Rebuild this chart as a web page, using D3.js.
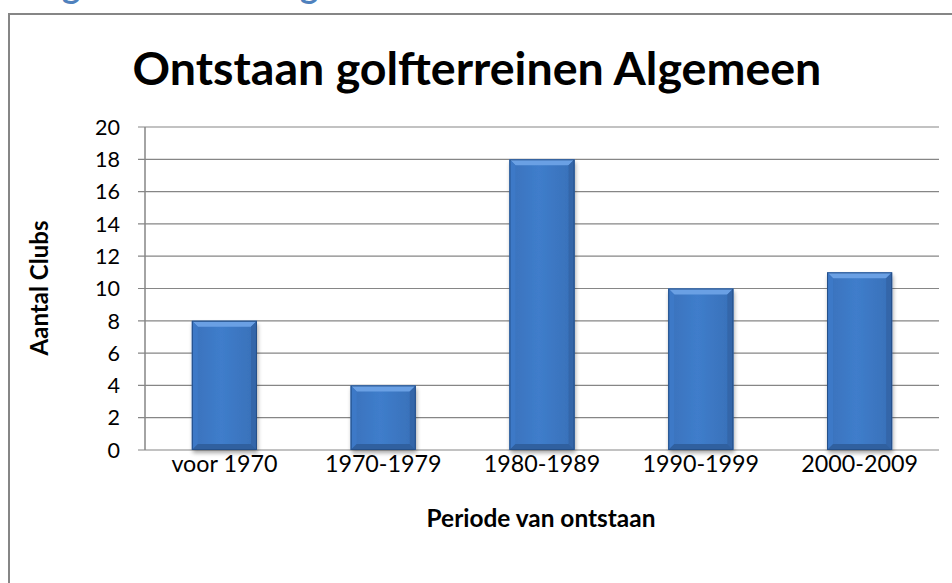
<!DOCTYPE html>
<html><head><meta charset="utf-8">
<script src="https://cdn.jsdelivr.net/npm/d3@7"></script>
<style>
html,body{margin:0;padding:0;background:#fff;}
svg{display:block;}
text{font-family:Lato, "Open Sans", sans-serif;}
</style></head>
<body>
<svg id="c" width="952" height="583"></svg>
<script>
const categories = ["voor 1970","1970-1979","1980-1989","1990-1999","2000-2009"];
const values = [8,4,18,10,11];
const yTicks = [0,2,4,6,8,10,12,14,16,18,20];
const title = "Ontstaan golfterreinen Algemeen";
const xTitle = "Periode van ontstaan";
const yTitle = "Aantal Clubs";
const heading = "Ontstaan golfterreinen Algemeen";

const svg = d3.select("#c");
const W=952,H=583;
const m={left:145,right:939,top:127,bottom:450};

function fitSize(txt, weight, target){
  const t=svg.append("text").attr("font-size",100).attr("font-weight",weight).text(txt);
  const w=t.node().getComputedTextLength(); t.remove();
  return 100*target/w;
}

// heading cut off at top (only the lower part visible as in the reference)
const hd=svg.append("text").attr("x",0).attr("y",-2).attr("fill","#4F81BD")
  .attr("font-size",24).attr("font-weight","bold").text(heading);
{
  const n=hd.node();
  const p1=n.getStartPositionOfChar(9).x, p2=n.getStartPositionOfChar(25).x;
  const fs=24*238/(p2-p1);
  hd.attr("font-size",fs);
  const q=n.getStartPositionOfChar(9).x;
  hd.attr("x",62-q);
}

// frame
svg.append("path").attr("d",`M9,${H+2} V14 H${W+2}`).attr("fill","none")
  .attr("stroke","#868686").attr("stroke-width",2);

const x=d3.scaleBand().domain(categories).range([m.left,m.right]).paddingInner(0.59).paddingOuter(0.295);
const y=d3.scaleLinear().domain([0,20]).range([m.bottom,m.top]);

// gridlines
svg.append("g").selectAll("line").data(yTicks).join("line")
  .attr("x1",m.left-7).attr("x2",m.right).attr("y1",d=>y(d)).attr("y2",d=>y(d))
  .attr("stroke","#868686").attr("stroke-width",1.2);
svg.append("line").attr("x1",m.left).attr("x2",m.left).attr("y1",m.top).attr("y2",m.bottom)
  .attr("stroke","#868686").attr("stroke-width",1.5);

// y tick labels
const tickFs=fitSize("20","normal",25);
svg.append("g").selectAll("text").data(yTicks).join("text")
  .attr("x",120).attr("y",d=>y(d)).attr("dy","0.36em").attr("text-anchor","end")
  .attr("font-size",tickFs).attr("fill","#000").text(d=>d);

// defs
const defs=svg.append("defs");
const g1=defs.append("linearGradient").attr("id","face").attr("x1",0).attr("x2",1).attr("y1",0).attr("y2",0);
g1.append("stop").attr("offset","0%").attr("stop-color","#3A72BC");
g1.append("stop").attr("offset","45%").attr("stop-color","#3F7DCB");
g1.append("stop").attr("offset","100%").attr("stop-color","#3870B8");
const f=defs.append("filter").attr("id","sh").attr("x","-20%").attr("y","-20%").attr("width","140%").attr("height","140%");
f.append("feGaussianBlur").attr("in","SourceAlpha").attr("stdDeviation",2);
f.append("feOffset").attr("dx",1).attr("dy",3).attr("result","o");
f.append("feComponentTransfer").append("feFuncA").attr("type","linear").attr("slope",0.35);
const mg=f.append("feMerge"); mg.append("feMergeNode"); mg.append("feMergeNode").attr("in","SourceGraphic");

const bars=svg.append("g").selectAll("g").data(values.map((v,i)=>({c:categories[i],v}))).join("g");
bars.each(function(d){
  const g=d3.select(this);
  const x0=x(d.c), x1=x0+x.bandwidth(), y0=y(d.v), y1=y(0), b=6;
  g.append("rect").attr("x",x0).attr("y",y0).attr("width",x1-x0).attr("height",y1-y0)
    .attr("fill","url(#face)").attr("filter","url(#sh)");
  g.append("path").attr("d",`M${x0},${y0}H${x1}L${x1-b},${y0+b}H${x0+b}Z`).attr("fill","#6AA0E4");
  g.append("path").attr("d",`M${x0},${y0}L${x0+b},${y0+b}V${y1-b}L${x0},${y1}Z`).attr("fill","#3D79C7");
  g.append("path").attr("d",`M${x1},${y0}L${x1-b},${y0+b}V${y1-b}L${x1},${y1}Z`).attr("fill","#3466A9");
  g.append("path").attr("d",`M${x0},${y1}L${x0+b},${y1-b}H${x1-b}L${x1},${y1}Z`).attr("fill","#30609F");
  g.append("rect").attr("x",x0+0.5).attr("y",y0+0.5).attr("width",x1-x0-1).attr("height",y1-y0-1)
    .attr("fill","none").attr("stroke","#244F88").attr("stroke-width",1);
});

// x labels
const xFs=fitSize("voor 1970","normal",106);
svg.append("g").selectAll("text").data(categories).join("text")
  .attr("x",d=>x(d)+x.bandwidth()/2).attr("y",472).attr("text-anchor","middle")
  .attr("font-size",xFs).attr("fill","#000").text(d=>d);

// titles
svg.append("text").attr("x",477).attr("y",85).attr("text-anchor","middle")
  .attr("font-size",fitSize(title,"bold",689)).attr("font-weight","bold").attr("fill","#000").text(title);
svg.append("text").attr("x",541).attr("y",527).attr("text-anchor","middle")
  .attr("font-size",fitSize(xTitle,"bold",229)).attr("font-weight","bold").text(xTitle);
svg.append("text").attr("transform","translate(48,288) rotate(-90)").attr("text-anchor","middle")
  .attr("font-size",fitSize(yTitle,"bold",135)).attr("font-weight","bold").text(yTitle);
</script>
</body></html>
